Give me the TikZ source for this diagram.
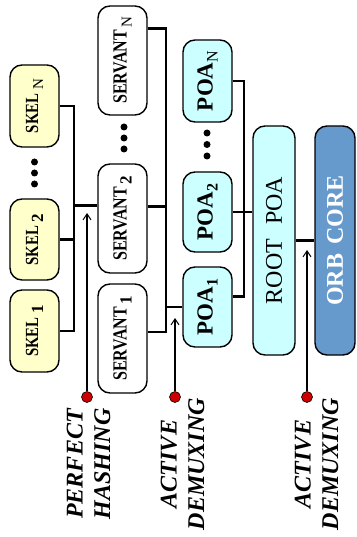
\documentclass[tikz,border=0pt]{standalone}
\usepackage{graphicx}
\usepackage{fontspec}
\setmainfont{Liberation Serif}
\usetikzlibrary{arrows.meta,calc}

\definecolor{skelfill}{HTML}{FFFFCC}
\definecolor{poafill}{HTML}{CCFFFF}
\definecolor{orbfill}{HTML}{6699CC}
\definecolor{dotred}{HTML}{CC0000}

% subscripts used in the box labels
\newcommand\subdig[2][16]{\raisebox{-5pt}{\fontsize{#1}{#1}\selectfont\bfseries #2}}
\newcommand\subN[1][15]{\raisebox{-5pt}{\fontsize{#1}{#1}\selectfont\mdseries N}}
% narrow bold labels for skeletons and servants
\newcommand\skellbl[1]{\rotatebox{90}{\scalebox{0.8}[1]{\fontsize{18.5}{18}\selectfont\bfseries SKEL}\hspace{4pt}#1}}
\newcommand\servlbl[1]{\rotatebox{90}{\scalebox{0.8}[1]{\fontsize{20}{20}\selectfont\bfseries SERVANT}\hspace{2pt}#1}}
\newcommand\poalbl[1]{\rotatebox{90}{\fontsize{23}{23}\selectfont\bfseries POA#1}}

\tikzset{
  box/.style={draw=black, line width=1.4pt, rounded corners=12pt, inner sep=0pt},
  skelbox/.style={box, fill=skelfill, minimum width=49pt},
  servbox/.style={box, fill=white, minimum width=49pt},
  poabox/.style={box, fill=poafill, minimum width=49pt},
  wire/.style={line width=2.7pt},
  probe/.style={line width=1.1pt, -{Straight Barb[length=6pt,width=8pt,line width=1pt]}},
  tail/.style={circle, fill=dotred, draw=black, line width=0.6pt, minimum size=11pt, inner sep=0pt},
  ell/.style={circle, fill=black, minimum size=7pt, inner sep=0pt},
  tag/.style={font=\fontsize{24}{27.5}\selectfont\bfseries\itshape, align=center, rotate=90, inner sep=0pt},
}

\begin{document}
\begin{tikzpicture}[x=1pt,y=-1pt]
\useasboundingbox (0,0) rectangle (356,537);

% skeletons
\node[skelbox, minimum height=82pt] (skelN) at (34.5,106) {\skellbl{\subN}};
\node[skelbox, minimum height=81pt] (skel2) at (34.5,239.5) {\skellbl{\subdig[17]{2}}};
\node[skelbox, minimum height=82pt] (skel1) at (34.5,331) {\skellbl{\subdig[17]{1}}};
\node[ell] (ks1) at (34.5,162) {};
\node[ell] (ks2) at (34.5,173) {};
\node[ell] (ks3) at (34.5,184) {};

% servants
\node[servbox, minimum height=109pt] (servN) at (122.5,60.5) {\servlbl{\subN}};
\node[servbox, minimum height=109pt] (serv2) at (122.5,218.5) {\servlbl{\subdig[17]{2}}};
\node[servbox, minimum height=109pt] (serv1) at (122.5,338.5) {\servlbl{\subdig[17]{1}}};
\node[ell] (vs1) at (124,127) {};
\node[ell] (vs2) at (124,138) {};
\node[ell] (vs3) at (124,149) {};

% POAs
\node[poabox, minimum height=82pt] (poaN) at (207.5,81) {\poalbl{\subN[16]}};
\node[poabox, minimum height=80pt] (poa2) at (207.5,212) {\poalbl{\subdig{2}}};
\node[poabox, minimum height=80pt] (poa1) at (207.5,307) {\poalbl{\subdig{1}}};
\node[ell] (ps1) at (207,133) {};
\node[ell] (ps2) at (207,144.5) {};
\node[ell] (ps3) at (207,156) {};

% root POA and ORB core
\node[box, fill=poafill, minimum width=42pt, minimum height=229pt] (root) at (274,240.5)
  {\rotatebox{90}{\fontsize{24}{24}\selectfont ROOT\hspace{14pt}POA}};
\node[box, fill=orbfill, minimum width=40pt, minimum height=229pt] (orb) at (335,240.5)
  {\rotatebox{90}{\fontsize{24}{24}\selectfont\bfseries\color{white}ORB\hspace{9pt}CORE}};

% bus lines
\coordinate (busA) at (74,0);
\coordinate (busB) at (166,0);
\coordinate (busC) at (244,0);

\draw[wire] (skelN.east) -- (skelN.east -| busA) -- (skel1.east -| busA) -- (skel1.east);
\draw[wire] (skel2.east) -- (skel2.east -| busA);
\coordinate (s2in) at ($(serv2.north west)!0.38!(serv2.south west)$);
\draw[wire] (s2in -| busA) -- (s2in);

\coordinate (sNout) at ($(servN.north east)!0.21!(servN.south east)$);
\coordinate (s2out) at ($(serv2.north east)!0.39!(serv2.south east)$);
\coordinate (s1out) at ($(serv1.north east)!0.44!(serv1.south east)$);
\draw[wire] (sNout) -- (sNout -| busB) -- (s1out -| busB) -- (s1out);
\draw[wire] (s2out) -- (s2out -| busB);
\draw[wire] (poa1.west -| busB) -- (poa1.west);

\coordinate (p1out) at ($(poa1.north east)!0.375!(poa1.south east)$);
\draw[wire] (poaN.east) -- (poaN.east -| busC) -- (p1out -| busC) -- (p1out);
\draw[wire] (poa2.east) -- (poa2.east -| root.west);
\draw[wire] (root.east) -- (orb.west);

% demultiplexing probes
\node[tail] (t1) at (87,397) {};
\node[tail] (t2) at (175,397) {};
\node[tail] (t3) at (307,397) {};
\coordinate (h1) at (87,213);
\coordinate (h2) at (175,318);
\coordinate (h3) at (307,250);
\draw[probe] (t1) -- (h1);
\draw[probe] (t2) -- (h2);
\draw[probe] (t3) -- (h3);

\node[tag] (lbl1) at (88.5,464) {PERFECT\\HASHING};
\node[tag] (lbl2) at (182.5,464) {ACTIVE\\DEMUXING};
\node[tag] (lbl3) at (316.5,464) {ACTIVE\\DEMUXING};
\end{tikzpicture}
\end{document}
